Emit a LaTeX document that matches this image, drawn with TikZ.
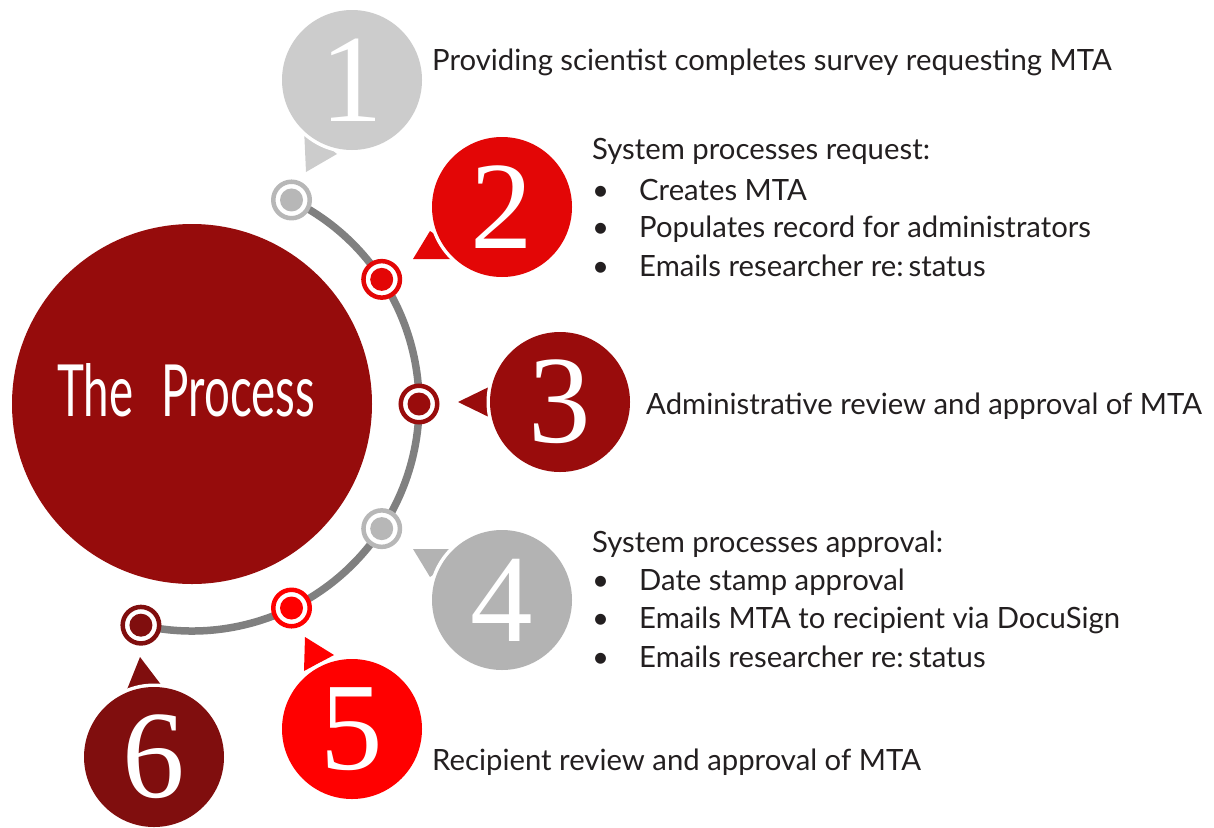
\documentclass[tikz,border=0pt]{standalone}
\usepackage{fontspec}
\setmainfont{Lato}
\newfontfamily\numfont{Liberation Serif}
\usetikzlibrary{backgrounds,calc}
\definecolor{cone}{RGB}{204,204,204}
\definecolor{ctwo}{RGB}{227,6,6}
\definecolor{cthree}{RGB}{153,12,12}
\definecolor{cfour}{RGB}{179,179,179}
\definecolor{cfive}{RGB}{255,0,0}
\definecolor{csix}{RGB}{128,14,14}
\definecolor{cbig}{RGB}{150,12,12}
\definecolor{carc}{RGB}{128,128,128}
\definecolor{cdotg}{RGB}{183,183,183}
\definecolor{ctext}{RGB}{35,31,32}
\begin{document}
\begin{tikzpicture}[x=1pt,y=-1pt,
  numc/.style={circle, minimum size=140pt, inner sep=0pt, text=white, fill=#1,
    font=\numfont\fontsize{125}{125}\selectfont,
    preaction={draw=white, line width=7pt}},
  dotn/.style={circle, minimum size=36.5pt, inner sep=0pt, draw=#1, line width=4.5pt, fill=white,
    path picture={\fill[#1] (path picture bounding box.center) circle (11.5pt);}},
  txt/.style={anchor=base west, inner sep=0pt, text=ctext, font=\fontsize{29.3}{29.3}\selectfont},
  arcline/.style={draw=carc, line width=7.5pt}
]
\useasboundingbox (0,0) rectangle (1214,827);
\coordinate (c) at (192,404);
% big circle
\node[circle, fill=cbig, minimum size=360pt, inner sep=0pt] (big) at (c) {};
\node[anchor=south west, inner sep=0pt, text=white] (title) at (57,417)
  {\resizebox{258pt}{53pt}{\fontsize{60}{60}\selectfont The\hspace{0.62em}Process}};
% dots on the arc
\node[dotn=cdotg]  (d1) at ($(c)+(-64:227)$) {};
\node[dotn=ctwo]   (d2) at ($(c)+(-33.3:227)$) {};
\node[dotn=cthree] (d3) at ($(c)+(0:227)$) {};
\node[dotn=cdotg]  (d4) at ($(c)+(33.3:227)$) {};
\node[dotn=cfive]  (d5) at ($(c)+(64:227)$) {};
\node[dotn=csix]   (d6) at ($(c)+(103:227)$) {};
\begin{pgfonlayer}{background}
\draw[arcline] (d1.center) arc[start angle=-64, end angle=103, radius=227];
\end{pgfonlayer}
% pointers
\fill[cone]   (304,128) -- (337,154) -- (306,172) -- cycle;
\fill[ctwo]   (413,259) -- (470,259) -- (430,231) -- cycle;
\fill[cthree] (458,402) -- (495,384) -- (495,420) -- cycle;
\fill[cfour]  (413,549) -- (470,549) -- (430,577) -- cycle;
\fill[cfive]  (305,637) -- (334,655) -- (304,671) -- cycle;
\fill[csix]   (140,657) -- (162,686) -- (126,692) -- cycle;
% number circles
\node[numc=cone]   (n1) at (352,80)  {1};
\node[numc=ctwo]   (n2) at (502,207) {2};
\node[numc=cthree] (n3) at (560,402) {3};
\node[numc=cfour]  (n4) at (502,600) {4};
\node[numc=cfive]  (n5) at (352,729) {5};
\node[numc=csix]   (n6) at (154,757) {6};
% texts
\node[txt] (t1) at (432,70) {Providing scientist completes survey requesting MTA};
\node[txt] (t2) at (592,159) {System processes request:};
\node[txt] (t2b1) at (592,200) {•};
\node[txt] (t2a) at (639,200) {Creates MTA};
\node[txt] (t2b2) at (592,237) {•};
\node[txt] (t2c) at (639,237) {Populates record for administrators};
\node[txt] (t2b3) at (592,276) {•};
\node[txt] (t2d) at (639,276) {Emails researcher re:\,status};
\node[txt] (t3) at (646,414) {Administrative review and approval of MTA};
\node[txt] (t4) at (592,552) {System processes approval:};
\node[txt] (t4b1) at (592,590) {•};
\node[txt] (t4a) at (639,590) {Date stamp approval};
\node[txt] (t4b2) at (592,628) {•};
\node[txt] (t4c) at (639,628) {Emails MTA to recipient via DocuSign};
\node[txt] (t4b3) at (592,667) {•};
\node[txt] (t4d) at (639,667) {Emails researcher re:\,status};
\node[txt] (t5) at (432,770) {Recipient review and approval of MTA};
\end{tikzpicture}
\end{document}
